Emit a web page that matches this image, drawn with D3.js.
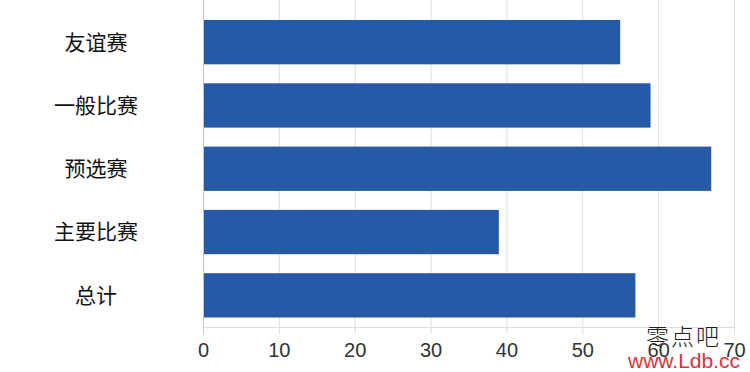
<!DOCTYPE html>
<html>
<head>
<meta charset="utf-8">
<script src="https://cdn.jsdelivr.net/npm/d3@7"></script>
<style>
  body { margin: 0; background: #fff; }
  svg { display: block; }
</style>
</head>
<body>
<div id="chart"></div>
<script>
// data
var categories = ["友谊赛", "一般比赛", "预选赛", "主要比赛", "总计"];
var values = [55, 59, 67, 39, 57];
var tickValues = [0, 10, 20, 30, 40, 50, 60, 70];

var width = 750, height = 372;
var plotBottom = 327;

var svg = d3.select("#chart").append("svg")
    .attr("width", width)
    .attr("height", height);

var x = d3.scaleLinear().domain([0, 70]).range([203, 734]);
var y = d3.scaleBand().domain(categories).range([10.5, plotBottom])
    .paddingInner(0.3).paddingOuter(0.15);

// grid + ticks
var xAxis = d3.axisBottom(x)
    .tickValues(tickValues)
    .tickSizeInner(-334)
    .tickSizeOuter(0)
    .tickPadding(9);

var gx = svg.append("g")
    .attr("transform", "translate(0,334)")
    .call(xAxis);
gx.select(".domain").remove();
gx.selectAll(".tick line").attr("stroke", "#dedede").attr("stroke-width", 1);
gx.selectAll(".tick text")
    .attr("fill", "#333")
    .style("font-family", "'Liberation Sans', Arial, sans-serif")
    .style("font-size", "20px");

// bottom horizontal line
svg.append("line")
    .attr("x1", x(0)).attr("x2", x(70))
    .attr("y1", plotBottom + 0.5).attr("y2", plotBottom + 0.5)
    .attr("stroke", "#dedede");

// bars
svg.selectAll("rect.bar").data(values).enter().append("rect")
    .attr("class", "bar")
    .attr("x", x(0))
    .attr("y", function (d, i) { return y(categories[i]); })
    .attr("width", function (d) { return x(d) - x(0); })
    .attr("height", y.bandwidth())
    .attr("fill", "#2659a6");

// left axis line
svg.append("line")
    .attr("x1", x(0) + 0.5).attr("x2", x(0) + 0.5)
    .attr("y1", 0).attr("y2", 334)
    .attr("stroke", "#c8c8c8");

// category labels
svg.selectAll("text.cat").data(categories).enter().append("text")
    .attr("class", "cat")
    .attr("x", 96)
    .attr("y", function (d) { return y(d) + y.bandwidth() / 2; })
    .attr("dy", "0.35em")
    .attr("text-anchor", "middle")
    .attr("fill", "#111")
    .style("font-family", "'Noto Sans CJK SC', sans-serif")
    .style("font-size", "21px")
    .text(function (d) { return d; });

// watermark
svg.append("text")
    .attr("x", 646).attr("y", 345)
    .attr("fill", "#222")
    .style("font-family", "'Noto Sans CJK SC', serif")
    .style("font-weight", "300")
    .style("font-size", "23px")
    .style("letter-spacing", "2px")
    .text("零点吧");
svg.append("text")
    .attr("x", 628).attr("y", 368)
    .attr("fill", "#e0313a")
    .style("font-family", "'Liberation Sans', Arial, sans-serif")
    .style("font-size", "21px")
    .text("www.Ldb.cc");
</script>
</body>
</html>
